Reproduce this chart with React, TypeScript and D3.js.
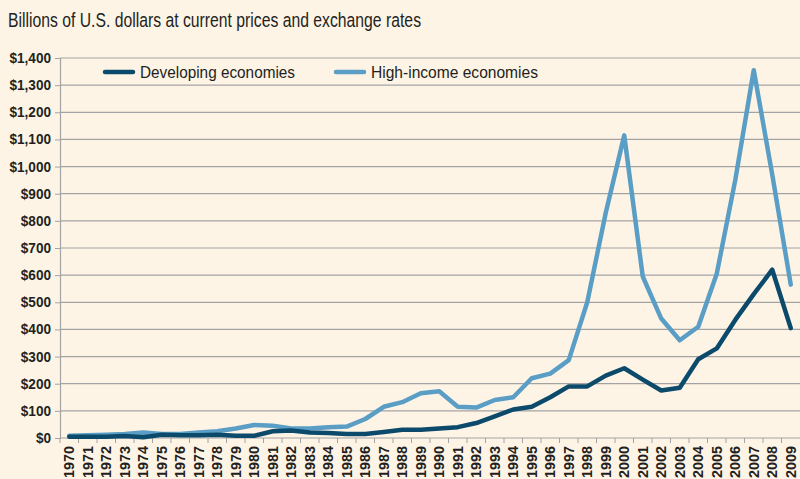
import { useRef, useEffect } from "react";
import * as d3 from "d3";

const years = d3.range(1970, 2010).map(String);

// billions of US dollars
const developing = [
  5, 5, 5, 7, 3, 12, 10, 10, 12, 8,
  8, 25, 28, 20, 18, 15, 15, 22, 30, 30,
  35, 40, 55, 80, 105, 115, 150, 190, 190, 230,
  257, 215, 175, 185, 290, 330, 435, 530, 620, 405,
];
const highIncome = [
  8, 10, 12, 15, 20, 15, 15, 20, 25, 35,
  48, 45, 35, 35, 40, 42, 70, 115, 132, 165,
  172, 115, 112, 140, 150, 220, 237, 287, 500, 830,
  1115, 595, 440, 360, 410, 605, 950, 1355, 970, 565,
];
const yTicks = d3.range(0, 1401, 100);

const seriesNames = ["Developing economies", "High-income economies"];
const seriesColors = ["#0c4a6c", "#5a9ec5"];

const W = 800;
const H = 479;
const FONT = "'Liberation Sans', Arial, sans-serif";

// squeeze text horizontally to mimic the condensed face of the original
const condense = (sel: any, factor: number) => {
  sel.each(function (this: SVGTextElement) {
    const len = this.getComputedTextLength();
    d3.select(this)
      .attr("textLength", len * factor)
      .attr("lengthAdjust", "spacingAndGlyphs");
  });
};

const App = () => {
  const svgRef = useRef<SVGSVGElement>(null);

  useEffect(() => {
    const svg = d3.select(svgRef.current);
    svg.selectAll("*").remove();
    const margin = { top: 58, right: 0, bottom: 41, left: 60 };
    const plotH = H - margin.top - margin.bottom;

    svg.append("rect").attr("width", W).attr("height", H).attr("fill", "#fdf4e6");

    svg
      .append("text")
      .attr("x", 8)
      .attr("y", 27)
      .attr("font-family", FONT)
      .attr("font-size", 20.5)
      .attr("fill", "#231f20")
      .attr("textLength", 413)
      .attr("lengthAdjust", "spacingAndGlyphs")
      .text("Billions of U.S. dollars at current prices and exchange rates");

    const x = d3.scaleBand().domain(years).range([margin.left, W - margin.right]);
    const y = d3.scaleLinear().domain([0, 1400]).range([margin.top + plotH, margin.top]);

    // gridlines
    svg
      .append("g")
      .selectAll("line")
      .data(yTicks.filter((d) => d > 0))
      .enter()
      .append("line")
      .attr("x1", margin.left)
      .attr("x2", W)
      .attr("y1", (d) => y(d))
      .attr("y2", (d) => y(d))
      .attr("stroke", "#a3a3a3")
      .attr("stroke-width", 1.2);

    // y axis
    const yAxis = svg
      .append("g")
      .attr("transform", `translate(${margin.left},0)`)
      .call(
        d3
          .axisLeft(y)
          .tickValues(yTicks)
          .tickSize(5)
          .tickPadding(4)
          .tickFormat((d) => "$" + d3.format(",")(d as number))
      );
    yAxis.select(".domain").attr("stroke", "#a3a3a3").attr("stroke-width", 1.2);
    yAxis.selectAll(".tick line").attr("stroke", "#a3a3a3");
    const yLabels = yAxis
      .selectAll(".tick text")
      .attr("font-family", FONT)
      .attr("font-size", 14)
      .attr("font-weight", "bold")
      .attr("fill", "#231f20");
    condense(yLabels, 0.97);

    // x axis
    const xAxis = svg.append("g").attr("transform", `translate(0,${y(0)})`);
    xAxis
      .append("line")
      .attr("x1", margin.left)
      .attr("x2", W)
      .attr("stroke", "#a3a3a3")
      .attr("stroke-width", 1.2);
    xAxis
      .selectAll(".tk")
      .data(years)
      .enter()
      .append("line")
      .attr("x1", (d) => x(d)!)
      .attr("x2", (d) => x(d)!)
      .attr("y2", 5)
      .attr("stroke", "#a3a3a3");
    xAxis
      .selectAll(".lbl")
      .data(years)
      .enter()
      .append("text")
      .attr(
        "transform",
        (d) => `translate(${x(d)! + x.bandwidth() / 2 + 5},8) rotate(-90)`
      )
      .attr("text-anchor", "end")
      .attr("font-family", FONT)
      .attr("font-size", 14)
      .attr("font-weight", "bold")
      .attr("fill", "#231f20")
      .attr("textLength", 32)
      .attr("lengthAdjust", "spacingAndGlyphs")
      .text((d) => d);

    // lines
    const line = d3
      .line<number>()
      .x((_, i) => x(years[i])! + x.bandwidth() / 2)
      .y((d) => y(d));

    [highIncome, developing].forEach((vals, k) => {
      svg
        .append("path")
        .datum(vals)
        .attr("fill", "none")
        .attr("stroke", k === 0 ? seriesColors[1] : seriesColors[0])
        .attr("stroke-width", 4.5)
        .attr("stroke-linejoin", "round")
        .attr("stroke-linecap", "round")
        .attr("d", line);
    });

    // legend
    const legX = [105, 336];
    const legW = [155, 167];
    seriesNames.forEach((name, i) => {
      const g = svg.append("g").attr("transform", `translate(${legX[i]},72)`);
      g.append("line")
        .attr("x1", 0)
        .attr("x2", 28)
        .attr("stroke", seriesColors[i])
        .attr("stroke-width", 4.5)
        .attr("stroke-linecap", "round");
      g.append("text")
        .attr("x", 35)
        .attr("y", 6)
        .attr("font-family", FONT)
        .attr("font-size", 17)
        .attr("fill", "#231f20")
        .attr("textLength", legW[i])
        .attr("lengthAdjust", "spacingAndGlyphs")
        .text(name);
    });
  }, []);

  return (
    <svg
      ref={svgRef}
      width={W}
      height={H}
      style={{ display: "block", position: "absolute", left: 0, top: 0 }}
    />
  );
};

export default App;
